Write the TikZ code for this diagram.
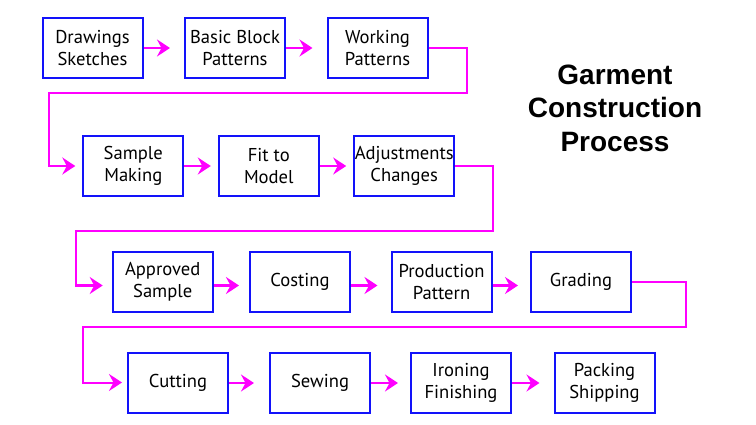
\documentclass[tikz,border=0pt]{standalone}
\usepackage{fontspec}
\setmainfont{PT Sans}
\newfontfamily\titlefont{Liberation Sans}
\usetikzlibrary{arrows.meta}
\definecolor{boxblue}{RGB}{18,18,250}
\definecolor{flowmag}{RGB}{255,0,255}
\begin{document}
\begin{tikzpicture}[x=1pt,y=-1pt,
  stepbox/.style={draw=boxblue, line width=2pt, minimum width=100pt, minimum height=60.5pt,
    inner sep=0pt, align=center, font=\fontsize{18.6}{22}\selectfont},
  flow/.style={draw=flowmag, line width=2pt, -{Stealth[length=13pt,width=17pt,inset=4.5pt]}},
  titletext/.style={font=\titlefont\bfseries\fontsize{28}{33}\selectfont, inner sep=0pt, anchor=base}]
\useasboundingbox (0,0) rectangle (756,425);
% row 1
\node[stepbox] (draw) at (92.5,48) {Drawings\\Sketches};
\node[stepbox] (basic) at (235,48) {Basic Block\\Patterns};
\node[stepbox] (work) at (377.5,48) {Working\\Patterns};
% row 2
\node[stepbox] (sample) at (133.3,166) {Sample\\Making};
\node[stepbox] (fit) at (268.8,166) {Fit to\\Model};
\node[stepbox] (adj) at (404.2,166) {Adjustments\\Changes};
% row 3
\node[stepbox] (appr) at (162.7,282) {Approved\\Sample};
\node[stepbox] (cost) at (300,282) {Costing};
\node[stepbox] (prod) at (441.5,282) {Production\\Pattern};
\node[stepbox] (grad) at (581,282) {Grading};
% row 4
\node[stepbox] (cut) at (178,383) {Cutting};
\node[stepbox] (sew) at (320,383) {Sewing};
\node[stepbox] (iron) at (461,383) {Ironing\\Finishing};
\node[stepbox] (pack) at (604.5,383) {Packing\\Shipping};
% title
\node[titletext] (t1) at (615,85) {Garment};
\node[titletext] (t2) at (615,117.7) {Construction};
\node[titletext] (t3) at (615,151.7) {Process};
% bend points
\coordinate (b1) at (466.7,93.3);
\coordinate (b2) at (49.3,166);
\coordinate (b3) at (492.7,231.5);
\coordinate (b4) at (75.7,285.5);
\coordinate (b5) at (685.7,327.3);
\coordinate (b6) at (83.3,382.5);
% arrows
\draw[flow, shorten >=14pt] (draw) -- (basic);
\draw[flow, shorten >=14pt] (basic) -- (work);
\draw[flow, shorten >=7pt] (work.east) -| (b1) -| (b2) -- (sample.west);
\draw[flow, shorten >=7pt] (sample) -- (fit);
\draw[flow, shorten >=7pt] (fit) -- (adj);
\draw[flow, shorten >=9pt] (adj.east) -| (b3) -| (b4) -- (b4 -| appr.west);
\draw[flow, shorten >=10pt] ([yshift=-3.5pt]appr.east) -- ([yshift=-3.5pt]cost.west);
\draw[flow, shorten >=13pt] ([yshift=-3.5pt]cost.east) -- ([yshift=-3.5pt]prod.west);
\draw[flow, shorten >=12pt] ([yshift=-3.5pt]prod.east) -- ([yshift=-3.5pt]grad.west);
\draw[flow, shorten >=5pt] (grad.east) -| (b5) -| (b6) -- (b6 -| cut.west);
\draw[flow, shorten >=15pt] (cut) -- (sew);
\draw[flow, shorten >=12pt] (sew) -- (iron);
\draw[flow, shorten >=14pt] (iron) -- (pack);
\end{tikzpicture}
\end{document}
